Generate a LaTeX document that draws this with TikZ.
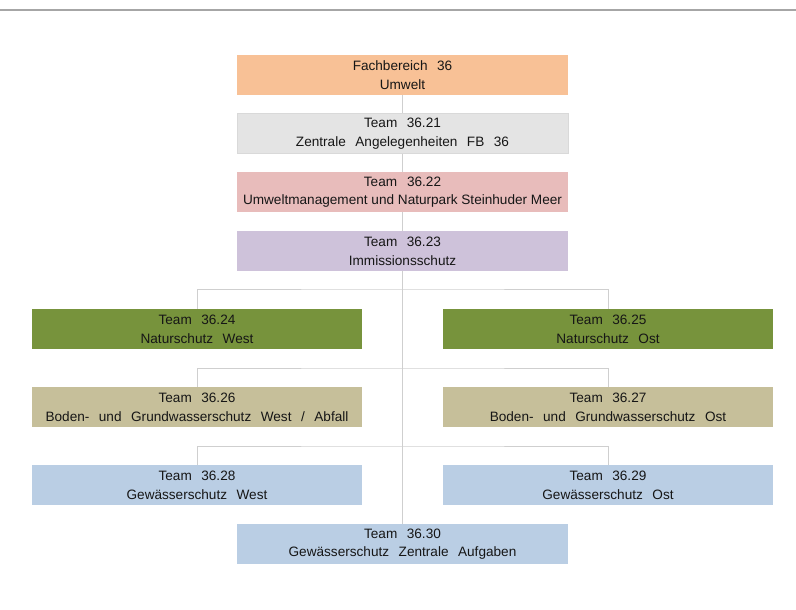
\documentclass[tikz,border=0pt]{standalone}
\usepackage{fontspec}
\setmainfont{Liberation Sans}
\usepackage{tikz}
\definecolor{fborange}{HTML}{F8C196}
\definecolor{zgray}{HTML}{E4E4E4}
\definecolor{umpink}{HTML}{E8BCBB}
\definecolor{imlilac}{HTML}{CEC2DA}
\definecolor{nsgreen}{HTML}{77933C}
\definecolor{bgkhaki}{HTML}{C6BF9A}
\definecolor{gwblue}{HTML}{BACEE4}
\definecolor{linegray}{HTML}{CFCFCF}
\definecolor{textdark}{HTML}{161616}
\newcommand{\teamfont}{\fontsize{10.2}{14}\selectfont\spaceskip 0.7em plus 0.1em\relax}
\newcommand{\plainfont}{\fontsize{10.2}{14}\selectfont}
\begin{document}
\begin{tikzpicture}[x=0.75pt,y=-0.75pt]
\tikzstyle{team}=[minimum width=248pt,minimum height=30pt,inner sep=0pt,align=center,text=textdark,font=\teamfont]
\tikzstyle{teamwide}=[team,font=\plainfont]
\tikzstyle{link}=[draw=linegray,line width=0.7pt]
\useasboundingbox (0,0) rectangle (796,610);
\draw[draw=black!35,line width=1.2pt] (0,10) -- (796,10);
\node[team,fill=fborange] (fb) at (402.5,75) {Fachbereich 36\\Umwelt};
\node[team,fill=zgray,draw=black!15] (t21) at (402.5,133.5) {Team 36.21\\Zentrale Angelegenheiten FB 36};
\node[teamwide,fill=umpink] (t22) at (402.5,192) {Team\hspace{0.45em} 36.22\\Umweltmanagement und Naturpark Steinhuder Meer};
\node[team,fill=imlilac] (t23) at (402.5,251) {Team 36.23\\Immissionsschutz};
\node[team,fill=nsgreen] (t24) at (197,329) {Team 36.24\\Naturschutz West};
\node[team,fill=nsgreen] (t25) at (608,329) {Team 36.25\\Naturschutz Ost};
\node[team,fill=bgkhaki] (t26) at (197,407) {Team 36.26\\Boden- und Grundwasserschutz West / Abfall};
\node[team,fill=bgkhaki] (t27) at (608,407) {Team 36.27\\Boden- und Grundwasserschutz Ost};
\node[team,fill=gwblue] (t28) at (197,485) {Team 36.28\\Gewässerschutz West};
\node[team,fill=gwblue] (t29) at (608,485) {Team 36.29\\Gewässerschutz Ost};
\node[team,fill=gwblue] (t30) at (402.5,544) {Team 36.30\\Gewässerschutz Zentrale Aufgaben};
\coordinate (j1) at (402.5,289);
\coordinate (j2) at (402.5,368);
\coordinate (j3) at (402.5,446);
\draw[link] (fb) -- (t21);
\draw[link] (t21) -- (t22);
\draw[link] (t22) -- (t23);
\draw[link] (t23) -- (t30);
\draw[link] (t24.north) |- (j1) -| (t25.north);
\draw[link] (t26.north) |- (j2) -| (t27.north);
\draw[link] (t28.north) |- (j3) -| (t29.north);
\end{tikzpicture}
\end{document}
